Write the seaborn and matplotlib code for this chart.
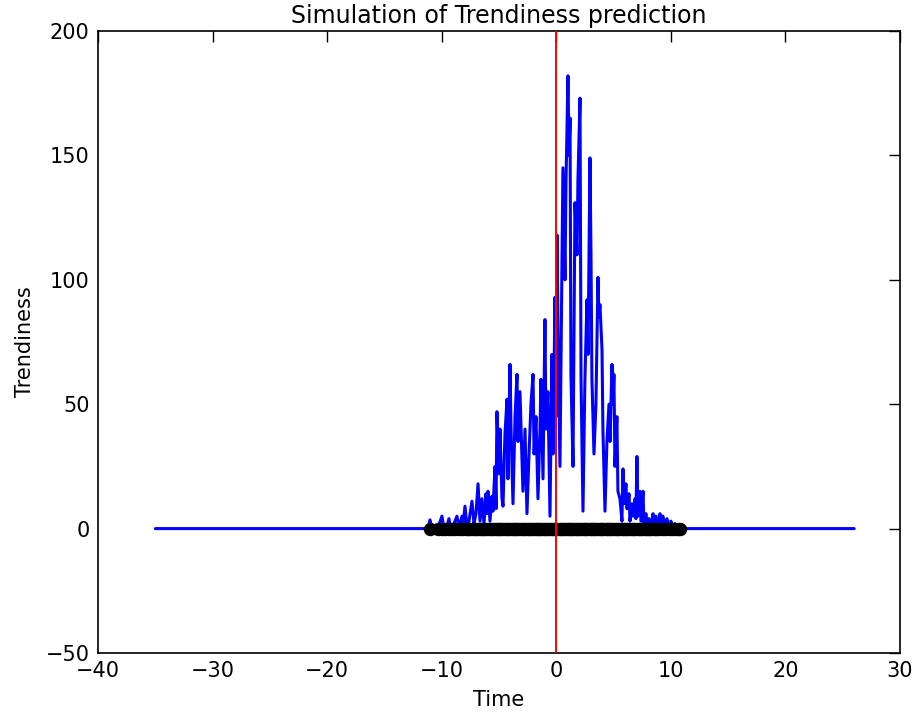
import matplotlib
matplotlib.use("Agg")
import matplotlib.pyplot as plt
import seaborn as sns
import pandas as pd

# Trendiness curve (time, value)
time_vals = [-35.0, -11.20, -11.02, -10.85, -10.50, -10.24, -9.98, -9.80, -9.54, -9.37, -9.19,
             -8.93, -8.67, -8.49, -8.23, -8.15, -7.97, -7.80, -7.62, -7.36, -7.18, -7.01,
             -6.83, -6.66, -6.49, -6.31, -6.14, -6.05, -5.96, -5.79, -5.61, -5.53, -5.35,
             -5.26, -5.18, -5.00, -4.91, -4.74, -4.65, -4.48, -4.30, -4.22, -4.04, -3.95,
             -3.78, -3.60, -3.43, -3.34, -3.17, -2.99, -2.91, -2.73, -2.56, -2.38, -2.21,
             -2.03, -1.94, -1.77, -1.60, -1.42, -1.34, -1.16, -0.99, -0.90, -0.73, -0.55,
             -0.38, -0.29, -0.11, -0.03, 0.06, 0.15, 0.32, 0.50, 0.58, 0.76, 0.85, 1.02,
             1.11, 1.20, 1.28, 1.46, 1.63, 1.81, 1.89, 2.07, 2.16, 2.33, 2.50, 2.68, 2.77,
             2.94, 3.03, 3.11, 3.29, 3.46, 3.64, 3.72, 3.81, 3.99, 4.07, 4.25, 4.42, 4.60,
             4.69, 4.86, 4.95, 5.03, 5.12, 5.29, 5.38, 5.56, 5.73, 5.82, 5.91, 6.08, 6.17,
             6.35, 6.43, 6.61, 6.69, 6.87, 6.95, 7.04, 7.13, 7.30, 7.39, 7.57, 7.65, 7.83,
             7.92, 8.09, 8.27, 8.44, 8.53, 8.70, 8.88, 9.05, 9.14, 9.31, 9.49, 9.66, 9.84,
             10.01, 10.19, 10.36, 10.54, 10.71, 10.88, 26.0]
trend_vals = [0, 0, 3.5, 0, 0.5, 1.5, 5, 0, 1, 4, 0,
              2, 5, 0.5, 5, 1, 9, 1, 3, 11, 2, 6,
              18, 3, 12, 2, 14, 6, 15, 3, 13, 7, 25,
              8, 47, 22, 40, 12, 9, 38, 52, 20, 66, 40,
              10, 45, 62, 35, 55, 28, 15, 40, 6, 30, 50,
              62, 30, 45, 12, 40, 60, 20, 84, 40, 55, 5,
              70, 30, 93, 45, 118, 80, 25, 110, 145, 100, 140, 182,
              150, 165, 62, 25, 131, 110, 140, 173, 60, 7, 60, 92, 70,
              149, 110, 60, 30, 50, 101, 85, 90, 72, 40, 7, 35, 50,
              35, 66, 50, 62, 25, 45, 15, 12, 3, 24, 10, 18, 8,
              14, 3, 10, 5, 12, 4, 29, 5, 15, 3, 15, 2, 6,
              1, 4, 0.5, 6, 2, 5, 1, 6, 2, 5, 1, 4, 1,
              3, 0.5, 2, 0.5, 1, 0, 0]

# Observed event times (black dots on the baseline)
event_times = [-11.0, -10.3, -10.0, -9.7, -9.4, -9.1, -8.8, -8.5, -8.2, -7.9,
               -7.7, -7.5, -7.3, -7.1, -6.9, -6.7, -6.5, -6.3, -6.1, -5.9,
               -5.7, -5.5, -5.3, -5.1, -4.9, -4.7, -4.5, -4.3, -4.1, -3.9,
               -3.7, -3.5, -3.3, -3.1, -2.9, -2.7, -2.5, -2.3, -2.1, -1.9,
               -1.7, -1.5, -1.3, -1.1, -0.9, -0.7, -0.5, -0.3, -0.1, 0.1,
               0.3, 0.5, 0.7, 0.9, 1.1, 1.3, 1.5, 1.7, 1.9, 2.1, 2.3, 2.5,
               2.7, 2.9, 3.1, 3.3, 3.5, 3.7, 3.9, 4.1, 4.3, 4.5, 4.7, 4.9,
               5.1, 5.3, 5.5, 5.7, 5.9, 6.1, 6.3, 6.5, 6.7, 6.9, 7.1, 7.3,
               7.5, 7.7, 7.9, 8.1, 8.3, 8.5, 8.7, 8.9, 9.2, 9.5, 9.8,
               10.1, 10.4, 10.6, 10.8]
event_level = [0] * len(event_times)

prediction_time = 0

curve = pd.DataFrame({"Time": time_vals, "Trendiness": trend_vals})
events = pd.DataFrame({"Time": event_times, "Trendiness": event_level})

sns.set_style("white")
plt.rcParams["font.family"] = ["DejaVu Sans"]
plt.rcParams["text.color"] = "black"
plt.rcParams["axes.labelcolor"] = "black"

fig = plt.figure(figsize=(9.15, 7.17), dpi=100)
ax = fig.add_axes([98 / 915, 1 - 653 / 717, 802 / 915, 622 / 717])

sns.lineplot(data=curve, x="Time", y="Trendiness", estimator=None, sort=False,
             color="blue", linewidth=2.2, ax=ax, zorder=2)
sns.scatterplot(data=events, x="Time", y="Trendiness", color="black", s=75,
                edgecolor="black", linewidth=1.0, ax=ax, zorder=3)
ax.axvline(prediction_time, color="red", linewidth=1.4, zorder=4)

ax.set_xlim(-40, 30)
ax.set_ylim(-50, 200)
ax.set_xticks([-40, -30, -20, -10, 0, 10, 20, 30])
ax.set_yticks([-50, 0, 50, 100, 150, 200])
ax.tick_params(direction="in", length=8, width=1, top=True, right=True,
               labelsize=15, pad=6, colors="black")
for s in ax.spines.values():
    s.set_visible(True)
    s.set_color("black")
    s.set_linewidth(1.2)

ax.set_title("Simulation of Trendiness prediction", fontsize=17, pad=6, color="black")
ax.set_xlabel("Time", fontsize=15, labelpad=6, color="black")
ax.set_ylabel("Trendiness", fontsize=15, labelpad=8, color="black")

fig.savefig("out.png", dpi=100)
